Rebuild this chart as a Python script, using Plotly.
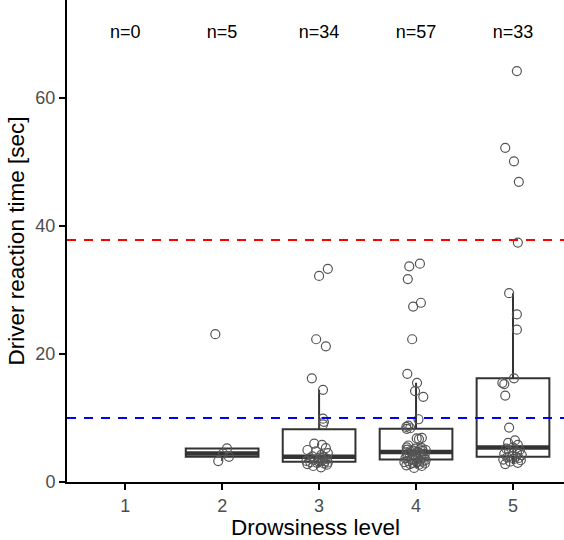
import numpy as np
import plotly.graph_objects as go

# ---------------- data ----------------
LEVELS = [1, 2, 3, 4, 5]
LEVEL_LABELS = ["1", "2", "3", "4", "5"]

# reaction times [sec] per drowsiness level
rt_1 = []
rt_2 = [3.27, 3.94, 4.47, 5.25, 23.1]
rt_3 = [2.3, 2.5, 2.7, 2.8, 2.9, 3.0, 3.05, 3.1, 3.15, 3.25, 3.3, 3.4, 3.5, 3.6,
        3.7, 3.8, 3.9, 4.0, 4.2, 4.5, 4.8, 5.0, 5.3, 5.8, 6.0, 9.0, 9.4, 9.9,
        14.4, 16.2, 21.2, 22.3, 32.2, 33.3]
rt_4 = [2.2, 2.5, 2.6, 2.7, 2.8, 2.9, 3.0, 3.05, 3.1, 3.2, 3.25, 3.3, 3.4, 3.45,
        3.5, 3.6, 3.7, 3.75, 3.8, 3.9, 4.0, 4.1, 4.2, 4.3, 4.4, 4.5, 4.6, 4.65,
        4.7, 4.8, 4.85, 4.9, 5.0, 5.05, 5.1, 5.2, 5.3, 5.4, 5.7, 6.7, 6.8, 6.9,
        8.3, 8.4, 8.6, 8.8, 9.8, 13.3, 14.2, 15.5, 16.9, 22.3, 27.4, 28.0,
        31.7, 33.7, 34.1]
rt_5 = [2.8, 3.0, 3.2, 3.4, 3.5, 3.6, 3.75, 3.85, 3.95, 4.0, 4.2, 4.4, 4.6, 4.8,
        5.0, 5.2, 5.4, 5.8, 6.1, 6.5, 8.5, 13.5, 15.3, 15.5, 16.2, 23.8, 26.2,
        29.5, 37.4, 46.9, 50.1, 52.2, 64.2]

# horizontal jitter of each point (in category units)
jit_1 = []
jit_2 = [-0.04, 0.07, 0.01, 0.05, -0.07]
jit_3 = [0.02, -0.06, 0.08, -0.12, 0.05, -0.02, 0.09, -0.09, 0.0, 0.06, -0.13,
         0.03, -0.05, 0.08, -0.1, 0.01, 0.05, -0.07, 0.02, 0.09, -0.03, -0.12,
         0.07, 0.03, -0.05, 0.04, 0.05, 0.04, 0.04, -0.075, 0.07, -0.03, 0.0, 0.09]
jit_4 = [-0.02, 0.06, -0.1, 0.03, -0.06, 0.09, -0.03, 0.01, -0.12, 0.07, -0.08,
         0.04, -0.01, 0.1, -0.05, 0.02, -0.11, 0.06, -0.04, 0.08, 0.0, -0.09,
         0.05, -0.02, 0.09, -0.07, 0.03, -0.1, 0.01, -0.06, 0.07, -0.03, 0.1,
         -0.09, 0.04, -0.01, 0.06, -0.096, -0.08, 0.03, 0.007, 0.06, -0.096,
         -0.06, -0.1, -0.08, 0.025, 0.075, -0.01, 0.01, -0.09, -0.04, -0.03,
         0.05, -0.085, -0.07, 0.04]
jit_5 = [-0.08, 0.05, -0.03, 0.08, -0.1, 0.01, 0.06, -0.06, 0.03, -0.01, 0.09,
         -0.09, 0.04, -0.04, 0.07, -0.07, 0.0, 0.05, -0.05, 0.02, -0.04, -0.08,
         -0.09, -0.11, 0.01, 0.04, 0.04, -0.04, 0.05, 0.06, 0.01, -0.08, 0.04]

RT = [rt_1, rt_2, rt_3, rt_4, rt_5]
JIT = [jit_1, jit_2, jit_3, jit_4, jit_5]

RED_LINE_Y = 37.8
BLUE_LINE_Y = 10.0
N_LABEL_Y = 70
Y_TICKS = [0, 20, 40, 60]

# ---------------- style ----------------
FONT = "Liberation Sans, Arial, Helvetica, sans-serif"
BOX_W = 0.75
BOX_COLOR = "#333333"
PT_COLOR = "#555555"

fig = go.Figure()

# boxplots (Tukey, quantile type 7)
bx, q1s, meds, q3s, lfs, ufs = [], [], [], [], [], []
for lvl, vals in zip(LEVELS, RT):
    if len(vals) == 0:
        continue
    a = np.array(vals)
    q1, med, q3 = np.percentile(a, [25, 50, 75])
    iqr = q3 - q1
    lf = a[a >= q1 - 1.5 * iqr].min()
    uf = a[a <= q3 + 1.5 * iqr].max()
    bx.append(lvl); q1s.append(q1); meds.append(med); q3s.append(q3)
    lfs.append(lf); ufs.append(uf)

fig.add_trace(go.Box(
    x=bx, q1=q1s, median=meds, q3=q3s, lowerfence=lfs, upperfence=ufs,
    width=BOX_W, whiskerwidth=0, fillcolor="white",
    line=dict(color=BOX_COLOR, width=2),
    boxpoints=False, showlegend=False, hoverinfo="skip",
))

# thick median segments (ggplot fatten)
mx, my = [], []
for lvl, m in zip(bx, meds):
    mx += [lvl - BOX_W / 2, lvl + BOX_W / 2, None]
    my += [m, m, None]
fig.add_trace(go.Scatter(x=mx, y=my, mode="lines",
                         line=dict(color=BOX_COLOR, width=4.5),
                         showlegend=False, hoverinfo="skip"))

# jittered points
px_, py_ = [], []
for lvl, vals, jit in zip(LEVELS, RT, JIT):
    for v, j in zip(vals, jit):
        px_.append(lvl + j)
        py_.append(v)
fig.add_trace(go.Scatter(
    x=px_, y=py_, mode="markers",
    marker=dict(symbol="circle-open", size=9, color=PT_COLOR,
                line=dict(width=1.2, color=PT_COLOR)),
    showlegend=False,
))

# n labels
fig.add_trace(go.Scatter(
    x=LEVELS, y=[N_LABEL_Y] * len(LEVELS), mode="text",
    text=[f"n={len(v)}" for v in RT],
    textfont=dict(family=FONT, size=18, color="black"),
    showlegend=False, hoverinfo="skip",
))

# threshold lines
fig.add_hline(y=RED_LINE_Y, line=dict(color="#FF0000", width=2, dash="9px,8px"),
              layer="above")
fig.add_hline(y=BLUE_LINE_Y, line=dict(color="#0000FF", width=2, dash="9px,8px"),
              layer="above")

fig.update_layout(
    width=564, height=540,
    margin=dict(l=67, r=0, t=0, b=58),
    paper_bgcolor="white", plot_bgcolor="white",
    font=dict(family=FONT),
    showlegend=False,
)
fig.update_xaxes(
    range=[0.4, 5.526], tickvals=LEVELS, ticktext=LEVEL_LABELS,
    showgrid=False, zeroline=False,
    showline=True, linecolor="black", linewidth=2,
    ticks="outside", ticklen=6, tickwidth=2, tickcolor="black",
    tickfont=dict(family=FONT, size=18, color="#4D4D4D"),
    title=dict(text="Drowsiness level", font=dict(family=FONT, size=22.5, color="black"),
               standoff=4),
)
fig.update_yaxes(
    range=[0, 75.3], tickvals=Y_TICKS,
    showgrid=False, zeroline=False,
    showline=True, linecolor="black", linewidth=2,
    ticks="outside", ticklen=6, tickwidth=2, tickcolor="black",
    tickfont=dict(family=FONT, size=18, color="#4D4D4D"),
    title=dict(text="Driver reaction time [sec]",
               font=dict(family=FONT, size=22.5, color="black"), standoff=4),
)

fig.write_html("out.html",
               config={"displayModeBar": False},
               post_script="document.body.style.margin='0px';"
                           "document.body.style.overflow='hidden';")
